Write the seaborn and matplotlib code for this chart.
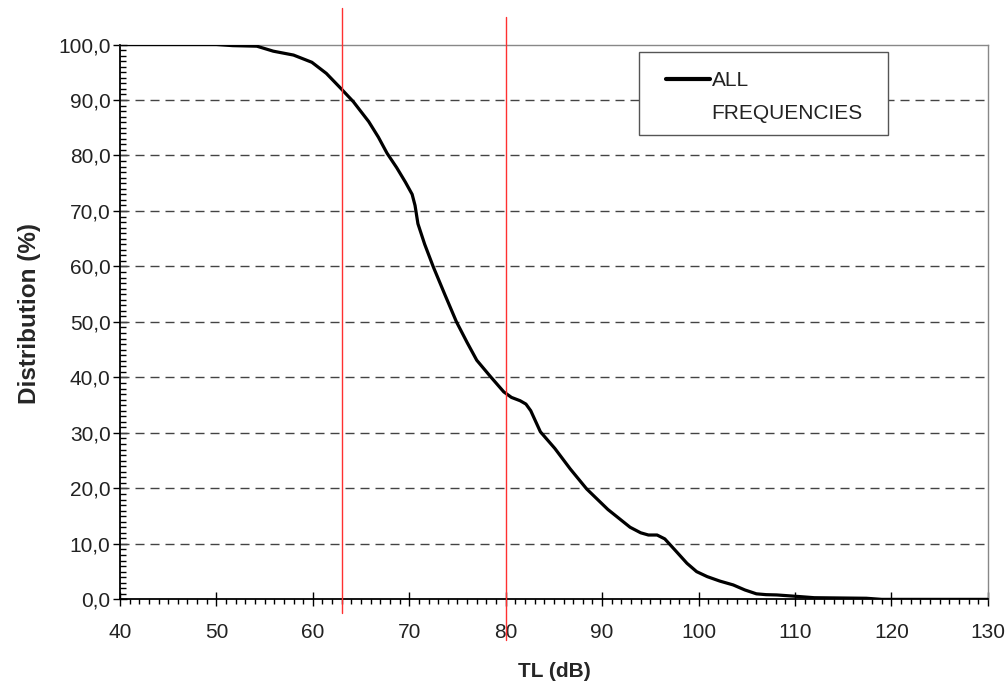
import matplotlib
matplotlib.use("Agg")
import matplotlib.pyplot as plt
import seaborn as sns
import pandas as pd
from matplotlib.lines import Line2D
from matplotlib.patches import Rectangle
from matplotlib.ticker import MultipleLocator, FuncFormatter

# values
tl_db = [40, 45, 50, 51.7, 54.2, 55.9, 58.0, 59.9, 61.4, 62.9, 64.2, 65.8, 66.8, 67.7,
         68.7, 69.6, 70.3, 70.6, 70.9, 71.6, 72.5, 73.7, 74.9, 76.0, 77.0, 78.4, 79.8,
         80.6, 81.5, 82.1, 82.6, 83.6, 85.1, 86.7, 88.4, 90.6, 92.9, 94.0, 94.8, 95.7,
         96.5, 97.5, 98.8, 99.8, 100.9, 102.2, 103.6, 104.8, 106.0, 107.0, 108.1,
         110.5, 112.0, 117.4, 119.0, 125.0, 130.0]
distribution = [100, 100, 100, 99.8, 99.7, 98.8, 98.1, 96.8, 94.8, 92.1, 89.7, 86.1, 83.3, 80.4,
                77.8, 75.2, 73.0, 71.0, 67.7, 64.0, 59.9, 54.9, 50.0, 46.3, 43.1, 40.2, 37.4,
                36.4, 35.8, 35.2, 34.0, 30.2, 27.2, 23.5, 19.9, 16.2, 13.0, 12.0, 11.6, 11.6,
                10.9, 9.0, 6.5, 5.0, 4.1, 3.3, 2.6, 1.7, 1.0, 0.85, 0.8,
                0.5, 0.3, 0.2, 0.0, 0.0, 0.0]
marker_x = [63, 80]
marker_y0 = [-2.5, -7.3]
marker_y1 = [106.5, 105.0]
legend_lines = ["ALL", "FREQUENCIES"]

df = pd.DataFrame({"TL": tl_db, "dist": distribution})

sns.set_style("white")
plt.rcParams['font.family'] = ['Liberation Sans', 'DejaVu Sans']

fig = plt.figure(figsize=(10.08, 6.85), dpi=100)
ax = fig.add_axes([0.119, 0.125, 0.861, 0.810])

sns.lineplot(data=df, x="TL", y="dist", color="black", linewidth=2.3, ax=ax, zorder=4)

ax.set_xlim(40, 130)
ax.set_ylim(0, 100)
ax.xaxis.set_major_locator(MultipleLocator(10))
ax.xaxis.set_minor_locator(MultipleLocator(1))
ax.yaxis.set_major_locator(MultipleLocator(10))
ax.yaxis.set_minor_locator(MultipleLocator(1))
ax.yaxis.set_major_formatter(FuncFormatter(lambda v, p: f"{v:.1f}".replace(".", ",")))

for yv in range(10, 100, 10):
    ax.axhline(yv, color="#444444", linewidth=1.0, dashes=(6.5, 4.3), zorder=1)

ax.tick_params(axis="x", which="major", direction="inout", length=10.5, width=1,
               color="black", labelsize=15, labelcolor="#222222", pad=12)
ax.tick_params(axis="x", which="minor", direction="out", length=3.6, width=1, color="black")
ax.tick_params(axis="y", which="major", direction="inout", length=9.5, width=1,
               color="black", labelsize=15, labelcolor="#222222", pad=2)
ax.tick_params(axis="y", which="minor", direction="in", length=4.3, width=1, color="black")
ax.tick_params(bottom=True, left=True, which="both")

for s in ["left", "bottom"]:
    ax.spines[s].set_color("black")
    ax.spines[s].set_linewidth(1.3)
for s in ["top", "right"]:
    ax.spines[s].set_color("#888888")
    ax.spines[s].set_linewidth(1.0)

ax.set_xlabel("TL (dB)", fontsize=15, fontweight="bold", labelpad=14)
ax.set_ylabel("Distribution (%)", fontsize=17.5, fontweight="bold")
ax.yaxis.set_label_coords(-0.091, 0.516)

for xv, y0, y1 in zip(marker_x, marker_y0, marker_y1):
    ax.add_line(Line2D([xv, xv], [y0, y1], color="#ff3030", linewidth=1.0,
                       clip_on=False, zorder=5))

# legend box
ax.add_patch(Rectangle((0.598, 0.837), 0.287, 0.1495, transform=ax.transAxes,
                       facecolor="white", edgecolor="#555555", linewidth=1.0, zorder=6))
handles = [Line2D([], [], color="black", linewidth=3.0),
           Line2D([], [], color="none")]
leg = ax.legend(handles, legend_lines, loc="upper left", bbox_to_anchor=(0.629, 0.952),
                frameon=False, fontsize=15, handlelength=2.1, handletextpad=0.1,
                borderpad=0, borderaxespad=0, labelspacing=0.65)
leg.set_zorder(7)
for t in leg.get_texts():
    t.set_color("#222222")

fig.savefig("out.png", dpi=100)
